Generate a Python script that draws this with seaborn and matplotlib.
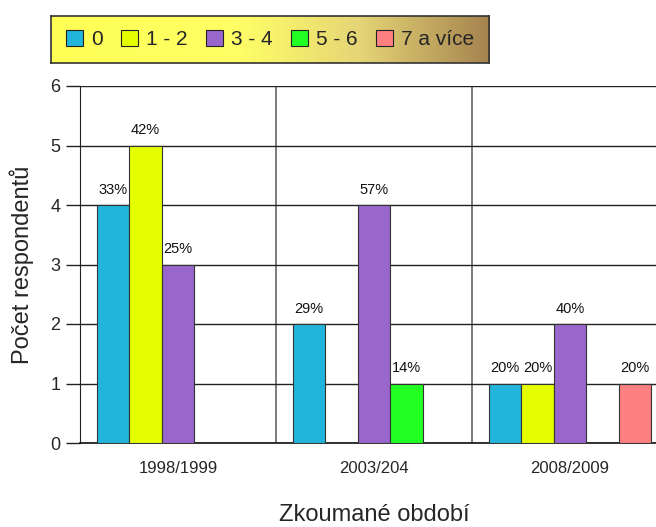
import matplotlib
matplotlib.use("Agg")
import matplotlib.pyplot as plt
from matplotlib.colors import LinearSegmentedColormap
from matplotlib.patches import Patch
import numpy as np
import pandas as pd
import seaborn as sns

# data
periods = ["1998/1999", "2003/204", "2008/2009"]
groups = ["0", "1 - 2", "3 - 4", "5 - 6", "7 a více"]
counts = {
    "0": [4, 2, 1],
    "1 - 2": [5, None, 1],
    "3 - 4": [3, 4, 2],
    "5 - 6": [None, 1, None],
    "7 a více": [None, None, 1],
}
percents = {
    "0": [33, 29, 20],
    "1 - 2": [42, None, 20],
    "3 - 4": [25, 57, 40],
    "5 - 6": [None, 14, None],
    "7 a více": [None, None, 20],
}
colors = {"0": "#22b5db", "1 - 2": "#e5ff00", "3 - 4": "#9966cc",
          "5 - 6": "#22ff22", "7 a více": "#ff8080"}


def draw():
    rows = []
    for g in groups:
        for p, c, pc in zip(periods, counts[g], percents[g]):
            if c is not None:
                rows.append({"period": p, "group": g, "count": c, "pct": pc})
    data = pd.DataFrame(rows)

    sns.set_style("white")
    plt.rcParams["font.family"] = ["Liberation Sans", "DejaVu Sans"]

    fig = plt.figure(figsize=(6.56, 5.27), dpi=100)
    W, H = 656, 527
    ax = fig.add_axes([80 / W, 1 - 443 / H, 588 / W, 357 / H])

    sns.barplot(data=data, x="period", y="count", hue="group", order=periods,
                hue_order=groups, palette=colors, width=0.83, saturation=1,
                edgecolor="#333333", linewidth=0.8, legend=False, ax=ax, zorder=3)

    # percent labels above each bar
    for g, cont in zip(groups, ax.containers):
        sub = data[data["group"] == g]
        ax.bar_label(cont, labels=[f"{v}%" for v in sub["pct"]], padding=6,
                     fontsize=10.5, color="#111111")

    ax.set_xlim(-0.5, 2.5)
    ax.set_ylim(0, 6)
    ax.set_yticks(range(0, 7))
    ax.set_xticks([-0.5, 0.5, 1.5, 2.5], minor=True)
    ax.tick_params(axis="x", which="major", length=0, labelsize=12, pad=13)
    ax.tick_params(axis="x", which="minor", length=10, width=1, color="#555555", direction="out")
    ax.tick_params(axis="y", length=10, width=1, color="#222222", labelsize=13, left=True, pad=4)
    ax.grid(axis="y", color="#222222", linewidth=1, zorder=0)
    ax.grid(axis="x", which="minor", color="#666666", linewidth=1.2, zorder=0)
    ax.set_axisbelow(True)
    for s in ["top", "right"]:
        ax.spines[s].set_visible(False)
    ax.spines["left"].set_color("#222222")
    ax.spines["bottom"].set_color("#111111")
    ax.spines["bottom"].set_linewidth(1.2)

    ax.set_xlabel("Zkoumané období", fontsize=17, labelpad=20)
    ax.set_ylabel("Počet respondentů", fontsize=17, labelpad=12)

    # legend with gradient background
    lax = fig.add_axes([51 / W, 1 - 63 / H, 438 / W, 47 / H])
    cmap = LinearSegmentedColormap.from_list(
        "bg", [(0, "#ffff55"), (0.42, "#ffff66"), (0.7, "#e6d676"), (1, "#a5834f")])
    lax.imshow(np.linspace(0, 1, 256)[None, :], aspect="auto", cmap=cmap,
               extent=[0, 1, 0, 1])
    lax.set_xticks([])
    lax.set_yticks([])
    for s in lax.spines.values():
        s.set_color("#333333")
        s.set_linewidth(1.2)

    handles = [Patch(facecolor=colors[g], edgecolor="#222222", linewidth=0.8, label=g)
               for g in groups]
    lax.legend(handles=handles, loc="center", ncol=5, frameon=False, fontsize=15,
               handlelength=0.8, handleheight=0.8, handletextpad=0.38,
               columnspacing=0.9, borderaxespad=0, borderpad=0)

    fig.savefig("out.png", dpi=100)


def main():
    draw()


if __name__ == "__main__":
    main()
